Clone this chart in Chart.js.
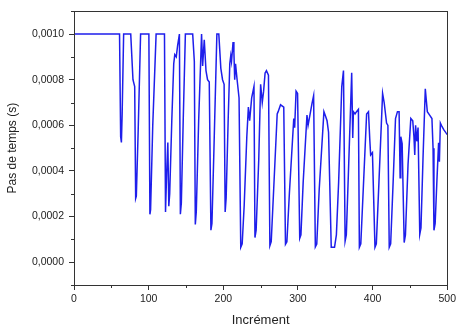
<!DOCTYPE html>
<html>
<head>
<meta charset="utf-8">
<script src="https://cdn.jsdelivr.net/npm/chart.js@4/dist/chart.umd.min.js"></script>
<style>
body { margin: 0; background: #fff; }
</style>
</head>
<body>
<canvas id="pasChart" width="459" height="331"></canvas>
<script>
// values
const increments = [
    0, 61, 62.5, 63.5, 64.5, 66.5, 76, 79, 81.3, 82.6, 83.5, 86, 89.2,
    100.3, 101.7, 102.6, 105.5, 110, 121.2, 122.6, 124.2, 125.7, 127, 128.2, 131, 133.6, 135, 137, 138.8,
    141.2, 142.5, 143.8, 146.3, 149.2, 159, 161.2, 162.5, 163.8, 167, 170.9, 172.3, 174.5, 176.8, 178.9,
    181.2, 183.4, 184.8, 187.5, 191.4, 194, 196.7, 199, 201.1, 202.5, 203.8, 206.5, 208.7, 210, 211,
    213.1, 214.2, 215.3, 216.4, 218.5, 221.1, 223.4, 225.3, 228, 231.5, 233.6, 235.3, 238, 241.1,
    242.4, 244, 247.5, 250, 252.2, 254, 256, 257.8, 260.5, 262.4, 264.2, 267.5, 272.2, 273.5, 276.7,
    281, 283.3, 285.2, 288.5, 294.4, 295.6, 297.5, 299.5, 302.4, 304, 307, 312.1, 313.6, 318.8, 321,
    323.3, 325.2, 328.5, 334.8, 337, 339, 341, 344.6, 349, 351.5, 354.5, 358.7, 361, 363.2, 364.8,
    367.5, 372, 373.4, 374.3, 376.5, 378.5, 381, 382.3, 384.2, 387.5, 392, 394.5, 396.2, 397.4, 399.8,
    403.2, 405, 408.5, 413.4, 415.5, 418.7, 420.5, 422.3, 424.2, 427.5, 430.7, 433.3, 435.5, 436.9,
    437.8, 439.6, 442.3, 444, 447.5, 451.2, 453.8, 455.4, 456.5, 457.6, 459.2, 460.9, 463.2, 464.8,
    467.5, 470.6, 473.3, 476.4, 479.5, 481, 482.2, 483.8, 486.2, 488.4, 489.5, 490.8, 492.9, 495.5,
    498.6, 500
];
const timeSteps = [
    0.00100, 0.00100, 0.00055, 0.000525, 0.00065, 0.00100, 0.00100, 0.00080, 0.00077, 0.00028, 0.00029, 0.00058, 0.00100,
    0.00100, 0.00021, 0.00023, 0.00060, 0.00100, 0.00100, 0.00022, 0.00040, 0.000525, 0.000245, 0.00030, 0.00062, 0.00087, 0.00091, 0.00090, 0.00095,
    0.00100, 0.00021, 0.00026, 0.00062, 0.00100, 0.00100, 0.00088, 0.000165, 0.00022, 0.00062, 0.00100, 0.00086, 0.000975, 0.00084, 0.00080,
    0.00079, 0.00014, 0.00017, 0.00050, 0.00100, 0.00100, 0.00085, 0.00080, 0.00078, 0.00022, 0.00028, 0.00062, 0.00087, 0.000905, 0.00088,
    0.000965, 0.00092, 0.00080, 0.00087, 0.00080, 0.00072, 0.000065, 0.00008, 0.00025, 0.00055, 0.00068, 0.00062, 0.00072, 0.00077,
    0.000108, 0.00014, 0.00045, 0.00078, 0.00070, 0.00075, 0.00083, 0.00084, 0.00082, 0.000072, 0.00009, 0.00032, 0.00065, 0.00066, 0.00069,
    0.00068, 0.000079, 0.00009, 0.00030, 0.00063, 0.00059, 0.00075, 0.00074, 0.000105, 0.00012, 0.00035, 0.000645, 0.00060, 0.000695, 0.00073,
    0.0000675, 0.00008, 0.00032, 0.00066, 0.00064, 0.00062, 0.00057, 0.000065, 0.000065, 0.00012, 0.00035, 0.00077, 0.00084, 0.000093, 0.00012,
    0.00038, 0.00083, 0.000545, 0.00066, 0.00065, 0.00066, 0.00067, 0.000065, 0.00008, 0.00032, 0.00065, 0.00066, 0.00054, 0.00047, 0.00048,
    0.000065, 0.00008, 0.00035, 0.00074, 0.00070, 0.00061, 0.00060, 0.000065, 0.00008, 0.00035, 0.00063, 0.00066, 0.00066, 0.00037,
    0.00055, 0.00052, 0.000086, 0.00012, 0.00043, 0.00063, 0.00062, 0.00055, 0.00047, 0.00060, 0.00053, 0.00059, 0.000122, 0.00015,
    0.00045, 0.00076, 0.00066, 0.000645, 0.00063, 0.00050, 0.00014, 0.00017, 0.00036, 0.000523, 0.00044, 0.00061, 0.000595, 0.00058,
    0.000566, 0.00056
];

const xTicks = [0, 100, 200, 300, 400, 500];
const yTicks = [0, 0.0002, 0.0004, 0.0006, 0.0008, 0.0010];
const xMinorTicks = [50, 150, 250, 350, 450];
const yMinorTicks = [-0.0001, 0.0001, 0.0003, 0.0005, 0.0007, 0.0009, 0.0011];

const axisColor = '#333';
const textColor = '#222';
const fontFamily = "'Liberation Sans', Arial, sans-serif";

// box round the plot + short minor ticks
const framePlugin = {
    id: 'frame',
    afterDraw(chart) {
        const { ctx, chartArea: a, scales } = chart;
        ctx.save();
        ctx.strokeStyle = axisColor;
        ctx.lineWidth = 1;
        ctx.strokeRect(Math.round(a.left) + 0.5, Math.round(a.top) + 0.5,
            Math.round(a.right - a.left), Math.round(a.bottom - a.top));
        ctx.beginPath();
        xMinorTicks.forEach(v => {
            const px = Math.round(scales.x.getPixelForValue(v)) + 0.5;
            ctx.moveTo(px, a.bottom);
            ctx.lineTo(px, a.bottom + 3);
        });
        yMinorTicks.forEach(v => {
            const py = Math.round(scales.y.getPixelForValue(v)) + 0.5;
            ctx.moveTo(a.left, py);
            ctx.lineTo(a.left - 3, py);
        });
        ctx.stroke();
        ctx.restore();
    }
};

const points = increments.map((x, i) => ({ x: x, y: timeSteps[i] }));

new Chart(document.getElementById('pasChart'), {
    type: 'line',
    data: {
        datasets: [{
            data: points,
            borderColor: 'rgb(30, 30, 235)',
            borderWidth: 1.5,
            pointRadius: 0,
            fill: false,
            tension: 0
        }]
    },
    options: {
        responsive: false,
        animation: false,
        layout: { padding: { top: 5, right: 10, left: 0, bottom: 0 } },
        plugins: { legend: { display: false }, tooltip: { enabled: false } },
        scales: {
            x: {
                type: 'linear',
                min: 0,
                max: 500,
                afterBuildTicks: s => { s.ticks = xTicks.map(v => ({ value: v })); },
                afterFit: s => { s.height = 46; },
                ticks: { color: textColor, font: { family: fontFamily, size: 10.5 }, padding: 3, maxRotation: 0 },
                grid: { drawOnChartArea: false, tickLength: 5, tickColor: axisColor },
                border: { color: axisColor, width: 1 },
                title: { display: true, text: 'Incrément', color: textColor,
                    font: { family: fontFamily, size: 13 }, padding: { top: 0, bottom: 3 } }
            },
            y: {
                min: -0.0001,
                max: 0.0011,
                afterBuildTicks: s => { s.ticks = yTicks.map(v => ({ value: v })); },
                afterFit: s => { s.width = 74; },
                ticks: { color: textColor, font: { family: fontFamily, size: 10.5 }, padding: 5,
                    callback: v => v.toFixed(4).replace('.', ',') },
                grid: { drawOnChartArea: false, tickLength: 5, tickColor: axisColor },
                border: { color: axisColor, width: 1 },
                title: { display: true, text: 'Pas de temps (s)', color: textColor,
                    font: { family: fontFamily, size: 12 }, padding: { top: 5, bottom: 0 } }
            }
        }
    },
    plugins: [framePlugin]
});
</script>
</body>
</html>
